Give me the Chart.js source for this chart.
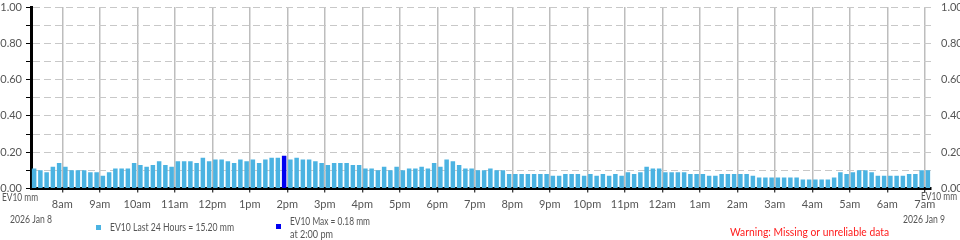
<!DOCTYPE html>
<html>
<head>
<meta charset="utf-8">
<script src="https://cdn.jsdelivr.net/npm/chart.js@4.4.1/dist/chart.umd.min.js"></script>
<style>
  html, body { margin: 0; padding: 0; background: #fff; }
  #wrap { width: 960px; height: 240px; position: relative; }
</style>
</head>
<body>
<div id="wrap"><canvas id="rainChart"></canvas></div>
<script>
// Rain per 10 minutes (mm), first bar ends 7:20am Jan 8, last bar ends 7:10am Jan 9
const rainValues = [
    0.11, 0.10, 0.09, 0.12, 0.14, 0.12, 0.10, 0.10, 0.10, 0.09, 0.09, 0.07, 0.09, 0.11, 0.11, 0.11,
    0.14, 0.13, 0.12, 0.13, 0.15, 0.13, 0.12, 0.15, 0.15, 0.15, 0.14, 0.17, 0.15, 0.16, 0.16, 0.15,
    0.14, 0.16, 0.15, 0.16, 0.14, 0.16, 0.17, 0.17, 0.18, 0.16, 0.17, 0.16, 0.16, 0.15, 0.14, 0.13,
    0.14, 0.14, 0.14, 0.13, 0.13, 0.11, 0.11, 0.10, 0.12, 0.10, 0.12, 0.10, 0.11, 0.11, 0.12, 0.11,
    0.14, 0.12, 0.16, 0.15, 0.13, 0.11, 0.11, 0.10, 0.10, 0.11, 0.10, 0.10, 0.08, 0.08, 0.08, 0.08,
    0.08, 0.08, 0.08, 0.07, 0.07, 0.08, 0.08, 0.08, 0.07, 0.08, 0.07, 0.08, 0.07, 0.08, 0.07, 0.09,
    0.08, 0.09, 0.12, 0.11, 0.11, 0.09, 0.09, 0.09, 0.09, 0.08, 0.08, 0.08, 0.07, 0.07, 0.08, 0.08,
    0.08, 0.08, 0.08, 0.07, 0.06, 0.06, 0.06, 0.06, 0.06, 0.06, 0.06, 0.05, 0.05, 0.05, 0.05, 0.05,
    0.06, 0.09, 0.08, 0.09, 0.10, 0.10, 0.09, 0.07, 0.07, 0.07, 0.07, 0.07, 0.08, 0.08, 0.10, 0.10
];

// Hour labels on the time axis (8am Jan 8 ... 7am Jan 9)
const hourLabels = ['8am', '9am', '10am', '11am', '12pm', '1pm', '2pm', '3pm', '4pm', '5pm', '6pm', '7pm',
    '8pm', '9pm', '10pm', '11pm', '12am', '1am', '2am', '3am', '4am', '5am', '6am', '7am'];

const unitLabel = 'EV10 mm';
const startDate = '2026 Jan 8';
const endDate = '2026 Jan 9';
const totalText = 'EV10 Last 24 Hours = 15.20 mm';
const maxText = ['EV10 Max = 0.18 mm', 'at 2:00 pm'];
const warningText = 'Warning: Missing or unreliable data';

const colors = {
    bar: '#4bb3e2',
    maxBar: '#0000f0',
    text: '#555555',
    grid: '#bdbdbd',
    dash: '#c8c8c8',
    axis: '#000000',
    warning: '#ff1a1a'
};

// Original uses a condensed face; Lato is the narrowest one installed
const fontFamily = "Lato, 'DejaVu Sans', sans-serif";
const fontSize = 11;
const noteFont = '12px ' + fontFamily;

// minutes after 7:00am, bar sits in the 10 minute slot ending at its time
const maxIndex = rainValues.indexOf(Math.max(...rainValues));
const barPoints = rainValues.map((v, i) => ({ x: 15 + 10 * i, y: v }));

// Extra texts and legend drawn under the axis (last arg squeezes text to the condensed width)
const extraTextPlugin = {
    id: 'extraText',
    afterDraw(chart) {
        const ctx = chart.ctx;
        ctx.save();
        ctx.font = noteFont;
        ctx.textBaseline = 'middle';
        ctx.fillStyle = colors.text;

        ctx.textAlign = 'left';
        ctx.fillText(unitLabel, 2, 197, 36);
        ctx.fillText(startDate, 10, 219, 42);
        ctx.textAlign = 'right';
        ctx.fillText(unitLabel, 957, 196, 36);
        ctx.fillText(endDate, 945, 219, 42);

        // legend
        ctx.textAlign = 'left';
        ctx.fillStyle = colors.bar;
        ctx.fillRect(96, 225, 5, 5);
        ctx.fillStyle = colors.text;
        ctx.fillText(totalText, 110, 227, 124);

        ctx.fillStyle = colors.maxBar;
        ctx.fillRect(276, 224, 5, 5);
        ctx.fillStyle = colors.text;
        ctx.fillText(maxText[0], 290, 221, 80);
        ctx.fillText(maxText[1], 290, 234, 43);

        ctx.fillStyle = colors.warning;
        ctx.fillText(warningText, 730, 232, 159);
        ctx.restore();
    }
};

function noPadding(scale) {
    scale.paddingTop = 0;
    scale.paddingBottom = 0;
    scale.paddingLeft = 0;
    scale.paddingRight = 0;
}

Chart.defaults.font.family = fontFamily;
Chart.defaults.font.size = fontSize;
Chart.defaults.color = colors.text;

const ctx = document.getElementById('rainChart').getContext('2d');

new Chart(ctx, {
    type: 'bar',
    data: {
        datasets: [{
            label: totalText,
            data: barPoints,
            backgroundColor: barPoints.map((p, i) => i === maxIndex ? colors.maxBar : colors.bar),
            borderWidth: 0,
            barPercentage: 0.72,
            categoryPercentage: 1.0
        }]
    },
    options: {
        responsive: true,
        maintainAspectRatio: false,
        animation: false,
        layout: { padding: { top: 7, left: 0, right: 0, bottom: 0 } },
        plugins: {
            legend: { display: false },
            tooltip: { enabled: false }
        },
        scales: {
            x: {
                type: 'linear',
                min: 10,
                max: 1450,
                offset: false,
                afterBuildTicks: function(scale) {
                    scale.ticks = hourLabels.map((_, i) => ({ value: 60 * (i + 1) }));
                },
                afterFit: function(scale) {
                    noPadding(scale);
                    scale.height = 51.5;
                },
                ticks: {
                    autoSkip: false,
                    maxRotation: 0,
                    padding: 5,
                    callback: function(value, index) {
                        return hourLabels[index];
                    }
                },
                grid: {
                    color: colors.grid,
                    lineWidth: 1.5,
                    offset: false,
                    tickColor: colors.axis,
                    tickLength: 4,
                    tickWidth: 1
                },
                border: { color: colors.axis, width: 3 }
            },
            y: {
                position: 'left',
                min: 0,
                max: 1,
                afterFit: function(scale) {
                    noPadding(scale);
                    scale.width = 31;
                },
                ticks: {
                    stepSize: 0.1,
                    autoSkip: false,
                    padding: 4,
                    callback: function(value) {
                        return Math.round(value * 10) % 2 === 0 ? value.toFixed(2) : '';
                    }
                },
                grid: {
                    color: colors.dash,
                    lineWidth: 1,
                    tickColor: colors.axis,
                    tickLength: 5,
                    tickWidth: 1,
                    tickBorderDash: []
                },
                border: { color: colors.axis, width: 3, dash: [7, 4] }
            },
            y2: {
                position: 'right',
                min: 0,
                max: 1,
                afterFit: function(scale) {
                    noPadding(scale);
                    scale.width = 29;
                },
                ticks: {
                    stepSize: 0.2,
                    autoSkip: false,
                    padding: 10,
                    callback: function(value) {
                        return value.toFixed(2);
                    }
                },
                grid: { display: false, drawTicks: false },
                border: { display: false }
            }
        }
    },
    plugins: [extraTextPlugin]
});
</script>
</body>
</html>
